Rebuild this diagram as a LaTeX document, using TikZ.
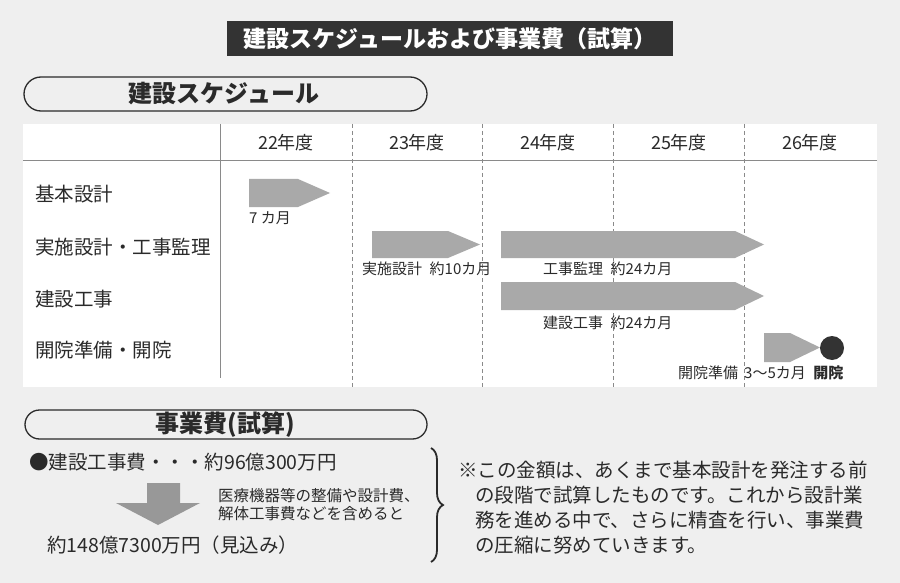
\documentclass[tikz,border=0pt]{standalone}
\usepackage{fontspec}
\setmainfont{Noto Sans CJK JP}
\usetikzlibrary{decorations.pathreplacing}
\definecolor{bgc}{HTML}{EFEFEF}
\definecolor{barc}{HTML}{A9A9A9}
\definecolor{darkc}{HTML}{333333}
\definecolor{txtc}{HTML}{2A2A2A}
\definecolor{linec}{HTML}{8A8A8A}
\newcommand{\fs}[1]{\fontsize{#1}{#1}\selectfont}
\tikzset{
  pill/.style={draw=txtc, line width=1.3pt, fill=bgc},
  pilltext/.style={font=\fs{24}\bfseries, text=txtc, inner sep=0pt},
  yeartext/.style={font=\fs{18}, text=txtc, inner sep=0pt},
  rowtext/.style={font=\fs{19.5}, text=txtc, inner sep=0pt, anchor=west},
  bartext/.style={font=\fs{15}, text=txtc, inner sep=0pt, anchor=west},
  gantt/.style={fill=barc},
  yline/.style={draw=linec, line width=1pt, dash pattern=on 4pt off 3pt},
  grid/.style={draw=linec, line width=1pt},
  bodytext/.style={font=\fs{19.5}, text=txtc, inner sep=0pt, anchor=west},
  smalltext/.style={font=\fs{15.5}, text=txtc, inner sep=0pt, anchor=west},
  notetext/.style={font=\fs{19.5}, text=txtc, inner sep=0pt, anchor=west}
}
\begin{document}
\begin{tikzpicture}[x=1pt,y=-1pt]
\fill[bgc] (0,0) rectangle (900,583);
\useasboundingbox (0,0) rectangle (900,583);

% title
\node[fill=darkc, minimum width=446pt, minimum height=35pt, text=white, inner sep=0pt,
  font=\fs{23}\bfseries] (title) at (450,38.5) {建設スケジュールおよび事業費（試算）};

% schedule pill
\draw[pill, rounded corners=17pt] (24,77) rectangle (427,111);
\node[pilltext] (schedhead) at (224,94) {建設スケジュール};

% table
\fill[white] (23,124) rectangle (877,387);
\draw[grid] (23,161) -- (877,161);
\draw[grid] (220,124) -- (220,378);
\foreach \x in {352,482,613,744} \draw[yline] (\x,124) -- (\x,387);

\node[yeartext] (y22) at (286,143) {22年度};
\node[yeartext] (y23) at (417,143) {23年度};
\node[yeartext] (y24) at (548,143) {24年度};
\node[yeartext] (y25) at (679,143) {25年度};
\node[yeartext] (y26) at (810,143) {26年度};

\node[rowtext] (r1) at (35,194) {基本設計};
\node[rowtext] (r2) at (35,247) {実施設計・工事監理};
\node[rowtext] (r3) at (35,299) {建設工事};
\node[rowtext] (r4) at (35,350) {開院準備・開院};

% bars
\fill[gantt] (249,179) -- (298,179) -- (330,193) -- (298,207) -- (249,207) -- cycle;
\fill[gantt] (372,231) -- (448,231) -- (480,244.5) -- (448,258) -- (372,258) -- cycle;
\fill[gantt] (501,231) -- (735,231) -- (764,244.5) -- (735,258) -- (501,258) -- cycle;
\fill[gantt] (501,282) -- (735,282) -- (764,296) -- (735,310) -- (501,310) -- cycle;
\fill[gantt] (764,333) -- (790,333) -- (820,347.5) -- (790,362) -- (764,362) -- cycle;
\fill[darkc] (832,348) circle (12pt);

\node[bartext] (l1) at (249,218) {7 カ月};
\node[bartext] (l2) at (362,269) {実施設計\hspace{0.5em}約10カ月};
\node[bartext] (l3) at (543,269) {工事監理\hspace{0.5em}約24カ月};
\node[bartext] (l4) at (543,323) {建設工事\hspace{0.5em}約24カ月};
\node[bartext] (l5) at (678,373) {開院準備\hspace{0.4em}3～5カ月\hspace{0.5em}\bfseries 開院};

% cost pill
\draw[pill, rounded corners=14.5pt] (25,410) rectangle (427,439);
\node[pilltext] (costhead) at (225,424.5) {事業費(試算)};

\node[bodytext] (c1) at (29,462) {●建設工事費・・・約96億300万円};
\fill[barc!90!black] (147,483) -- (180,483) -- (180,503) -- (200,503) -- (158,525) -- (116,503) -- (147,503) -- cycle;
\node[smalltext] (c2) at (218,496) {医療機器等の整備や設計費、};
\node[smalltext] (c3) at (218,514) {解体工事費などを含めると};
\node[bodytext] (c4) at (47,545) {約148億7300万円（見込み）};

\draw[txtc, line width=1.8pt, decorate, decoration={brace, amplitude=12pt}] (431,448) -- (431,562);

\node[notetext] (n1) at (458,470) {※この金額は、あくまで基本設計を発注する前};
\node[notetext] (n2) at (475,495) {の段階で試算したものです。これから設計業};
\node[notetext] (n3) at (475,520) {務を進める中で、さらに精査を行い、事業費};
\node[notetext] (n4) at (475,545) {の圧縮に努めていきます。};
\end{tikzpicture}
\end{document}
